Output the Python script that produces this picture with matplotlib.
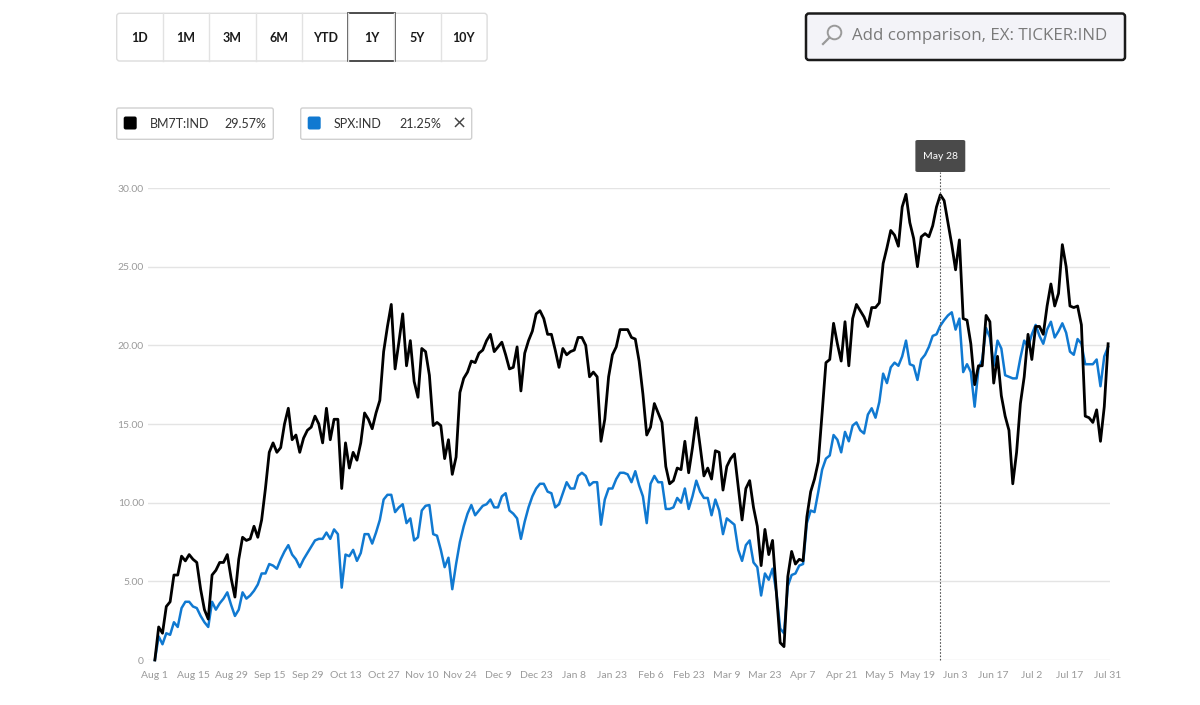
import numpy as np
import matplotlib.pyplot as plt
from matplotlib.patches import FancyBboxPatch, Circle, Rectangle
from matplotlib.lines import Line2D
from matplotlib.transforms import blended_transform_factory

plt.rcParams['font.family'] = ['Lato', 'DejaVu Sans']

# one point per trading day, Aug 1 -> Jul 31
tick_labels = ['Aug 1', 'Aug 15', 'Aug 29', 'Sep 15', 'Sep 29', 'Oct 13', 'Oct 27',
               'Nov 10', 'Nov 24', 'Dec 9', 'Dec 23', 'Jan 8', 'Jan 23', 'Feb 6',
               'Feb 23', 'Mar 9', 'Mar 23', 'Apr 7', 'Apr 21', 'May 5', 'May 19',
               'Jun 3', 'Jun 17', 'Jul 2', 'Jul 17', 'Jul 31']

bm7t = [0.0, 2.1, 1.7, 3.4, 3.7, 5.4, 5.4, 6.6, 6.3, 6.7,
        6.4, 6.2, 4.5, 3.2, 2.6, 5.4, 5.7, 6.2, 6.2, 6.7,
        5.2, 4.0, 6.4, 7.8, 7.6, 7.7, 8.5, 7.8, 8.9, 10.9,
        13.2, 13.8, 13.2, 13.5, 15.0, 16.0, 14.0, 14.3, 13.2, 14.1,
        14.6, 14.8, 15.5, 15.0, 13.8, 16.0, 14.0, 15.3, 15.3, 10.9,
        13.8, 12.2, 13.2, 12.7, 13.8, 15.7, 15.3, 14.7, 15.7, 16.5,
        19.6, 21.2, 22.6, 18.5, 20.2, 22.0, 18.7, 20.3, 17.7, 16.7,
        19.8, 19.6, 18.1, 14.9, 15.1, 14.9, 12.8, 14.0, 11.8, 12.9,
        17.0, 17.9, 18.3, 19.0, 18.9, 19.5, 19.7, 20.3, 20.7, 19.6,
        19.9, 20.2, 19.4, 18.5, 18.6, 19.9, 17.1, 19.5, 20.3, 20.9,
        22.0, 22.2, 21.7, 20.7, 20.7, 19.7, 18.6, 19.8, 19.4, 19.6,
        19.7, 20.5, 20.5, 20.0, 18.0, 18.3, 18.0, 13.9, 15.3, 18.0,
        19.4, 19.9, 21.0, 21.0, 21.0, 20.5, 20.4, 19.0, 16.9, 14.3,
        14.8, 16.3, 15.7, 15.1, 12.3, 11.2, 11.4, 12.2, 12.1, 13.9,
        11.9, 13.5, 15.4, 13.6, 11.7, 12.2, 11.5, 13.3, 13.2, 10.8,
        12.3, 12.8, 13.1, 11.0, 8.9, 10.9, 11.4, 9.7, 8.5, 6.0,
        8.3, 6.7, 7.6, 4.3, 1.1, 0.85, 5.3, 6.9, 6.1, 6.4,
        6.3, 9.1, 10.7, 11.5, 12.6, 15.7, 18.9, 19.1, 21.4, 20.1,
        19.0, 21.5, 18.7, 21.7, 22.6, 22.2, 21.8, 21.2, 22.4, 22.4,
        22.7, 25.2, 26.2, 27.3, 27.0, 26.3, 28.8, 29.6, 27.8, 26.8,
        25.0, 26.9, 27.1, 26.9, 27.6, 28.8, 29.57, 29.2, 27.8, 26.4,
        24.8, 26.7, 21.7, 21.6, 20.1, 17.5, 18.7, 18.7, 21.9, 21.5,
        17.6, 19.3, 16.8, 15.5, 14.6, 11.2, 13.2, 16.3, 18.0, 20.7,
        19.1, 21.2, 21.2, 20.7, 22.5, 23.9, 22.5, 23.3, 26.4, 25.0,
        22.5, 22.4, 22.5, 21.3, 15.5, 15.4, 15.1, 15.9, 13.9, 16.1,
        20.1]

spx = [0.0, 1.5, 1.0, 1.7, 1.6, 2.4, 2.1, 3.3, 3.7, 3.7,
       3.4, 3.3, 2.8, 2.4, 2.1, 3.7, 3.2, 3.6, 3.9, 4.3,
       3.5, 2.8, 3.2, 4.3, 3.9, 4.1, 4.4, 4.8, 5.5, 5.5,
       6.1, 6.0, 5.8, 6.4, 6.9, 7.3, 6.7, 6.4, 5.9, 6.4,
       6.8, 7.2, 7.6, 7.7, 7.7, 8.1, 7.7, 8.3, 8.0, 4.6,
       6.7, 6.6, 7.0, 6.3, 6.8, 8.0, 8.0, 7.4, 8.1, 8.9,
       10.2, 10.5, 10.5, 9.4, 9.7, 9.9, 8.7, 9.0, 7.6, 7.8,
       9.5, 9.8, 9.85, 8.0, 7.9, 7.0, 5.9, 6.5, 4.5, 6.1,
       7.5, 8.5, 9.3, 9.85, 9.2, 9.5, 9.8, 9.9, 10.2, 9.7,
       9.7, 10.4, 10.6, 9.5, 9.3, 9.0, 7.7, 8.8, 9.7, 10.4,
       10.9, 11.2, 11.2, 10.7, 10.6, 9.7, 9.9, 10.6, 11.3, 10.9,
       10.9, 11.7, 11.9, 11.7, 11.1, 11.3, 11.3, 8.6, 10.2, 10.9,
       10.9, 11.5, 11.9, 11.9, 11.8, 11.3, 12.0, 11.1, 10.4, 8.7,
       11.2, 11.7, 11.3, 11.3, 9.6, 9.6, 9.7, 10.3, 10.0, 10.9,
       9.6, 10.4, 11.4, 10.7, 10.3, 10.3, 9.2, 10.2, 9.5, 8.0,
       9.0, 8.8, 8.6, 7.0, 6.3, 7.3, 7.6, 6.2, 5.9, 4.1,
       5.5, 5.1, 5.8, 4.3, 2.0, 1.7, 4.7, 5.4, 5.5, 6.0,
       6.1, 8.7, 9.5, 9.4, 10.7, 12.1, 12.8, 13.0, 14.3, 14.0,
       13.2, 14.5, 13.9, 14.9, 15.1, 14.6, 14.4, 15.6, 16.0, 15.4,
       16.4, 18.2, 17.6, 18.6, 18.9, 18.7, 19.3, 20.3, 18.8, 18.7,
       17.8, 19.1, 19.4, 19.9, 20.6, 20.7, 21.25, 21.6, 21.9, 22.1,
       21.0, 21.7, 18.3, 18.8, 18.3, 16.1, 18.5, 19.1, 21.1, 20.5,
       18.7, 20.3, 19.8, 18.1, 18.0, 17.9, 17.9, 19.2, 20.3, 19.9,
       20.7, 21.3, 20.6, 20.1, 21.0, 21.5, 20.5, 20.9, 21.4, 20.8,
       19.6, 19.4, 20.4, 20.1, 18.8, 18.8, 18.8, 19.1, 17.4, 19.3,
       19.9]

ranges = ['1D', '1M', '3M', '6M', 'YTD', '1Y', '5Y', '10Y']
selected = '1Y'
hover_idx = 206
hover_label = 'May 28'

W, H = 1200, 705
fig = plt.figure(figsize=(W / 100, H / 100), dpi=100)

# overlay in pixel coords for the page widgets
ov = fig.add_axes([0, 0, 1, 1])
ov.set_xlim(0, W)
ov.set_ylim(H, 0)
ov.axis('off')

# range buttons
bx0, by0, bw, bh = 116.7, 13.3, 46.3, 47.7
ov.add_patch(FancyBboxPatch((bx0, by0), bw * len(ranges), bh,
                            boxstyle='round,pad=0,rounding_size=3',
                            fc='white', ec='#dcdcdc', lw=1))
for k, r in enumerate(ranges):
    x0 = bx0 + k * bw
    if k > 0:
        ov.add_line(Line2D([x0, x0], [by0, by0 + bh], color='#e2e2e2', lw=1))
    ov.text(x0 + bw / 2, by0 + bh / 2 + 1, r, ha='center', va='center',
            fontsize=9, fontweight='bold', color='#1a1a1a')
    if r == selected:
        ov.add_patch(Rectangle((x0, by0), bw, bh, fc='none', ec='#333333', lw=1.2))

# search box
ov.add_patch(FancyBboxPatch((806, 13.5), 319, 46.5,
                            boxstyle='round,pad=0,rounding_size=3',
                            fc='#f3f3f8', ec='#1a1a1a', lw=1.8))
ov.add_patch(Circle((834.5, 32.5), 6.8, fc='none', ec='#9a9a9a', lw=1.4))
ov.add_line(Line2D([829.5, 823], [37.5, 44], color='#9a9a9a', lw=1.6))
ov.text(852, 36.5, 'Add comparison, EX: TICKER:IND', ha='left', va='center',
        fontsize=12.2, color='#7a7a7a', family=['Open Sans', 'DejaVu Sans'])

# legend chips
chips = [(116.7, 156.6, 'black', 'BM7T:IND', '29.57%', 107.5, False),
         (300.7, 171.0, '#1079d1', 'SPX:IND', '21.25%', 98.5, True)]
for cx, cw, col, name, pct, pct_off, closable in chips:
    ov.add_patch(FancyBboxPatch((cx, 108), cw, 31.3,
                                boxstyle='round,pad=0,rounding_size=2',
                                fc='white', ec='#d0d0d0', lw=1))
    ov.add_patch(FancyBboxPatch((cx + 7, 116.5), 13, 13,
                                boxstyle='round,pad=0,rounding_size=2',
                                fc=col, ec='none'))
    ov.text(cx + 33, 124, name, ha='left', va='center', fontsize=9, color='#333333')
    ov.text(cx + pct_off, 124, pct, ha='left', va='center',
            fontsize=9, color='#333333')
    if closable:
        ov.text(cx + 158, 123.5, '\u00d7', ha='center', va='center',
                fontsize=13, color='#444444', family=['DejaVu Sans'])

# chart
ax = fig.add_axes([148 / W, 1 - 660 / H, (1110 - 148) / W, (660 - 188) / H])
ax.patch.set_alpha(0)
x = np.arange(len(bm7t))
ax.plot(x, spx, color='#1079d1', lw=1.8, zorder=3, clip_on=False)
ax.plot(x, bm7t, color='black', lw=2.0, zorder=4, clip_on=False)

ax.set_xlim(-1.8, 250.5)
ax.set_ylim(0, 30)
ax.set_yticks(range(0, 31, 5))
ax.set_yticklabels(['0'] + ['%.2f' % v for v in range(5, 31, 5)])
ax.set_xticks(range(0, len(bm7t), 10))
ax.set_xticklabels(tick_labels)
ax.grid(axis='y', color='#e4e4e4', lw=1, zorder=0)
for s in ax.spines.values():
    s.set_visible(False)
ax.tick_params(axis='both', length=0, colors='#9a9a9a', labelsize=7.5)
ax.tick_params(axis='y', pad=3)
ax.tick_params(axis='x', pad=8)

# hover marker
top = (660 - 172) / (660 - 188)
ax.axvline(hover_idx, ymin=0, ymax=top, color='#555555', lw=0.8,
           ls=(0, (1.5, 1.5)), clip_on=False, zorder=5)
bt = blended_transform_factory(ax.transData, ax.transAxes)
box_w = 50 / 3.82
box_y0 = top
box_h = 32 / (660 - 188)
ax.add_patch(FancyBboxPatch((hover_idx - box_w / 2, box_y0), box_w, box_h,
                            boxstyle='round,pad=0,rounding_size=0.6',
                            transform=bt, fc='#4a4a4a', ec='none',
                            clip_on=False, zorder=6, mutation_aspect=0.005))
ax.text(hover_idx, box_y0 + box_h / 2, hover_label, transform=bt,
        ha='center', va='center', color='white', fontsize=7.5, zorder=7)

fig.savefig('out.png', dpi=100)
